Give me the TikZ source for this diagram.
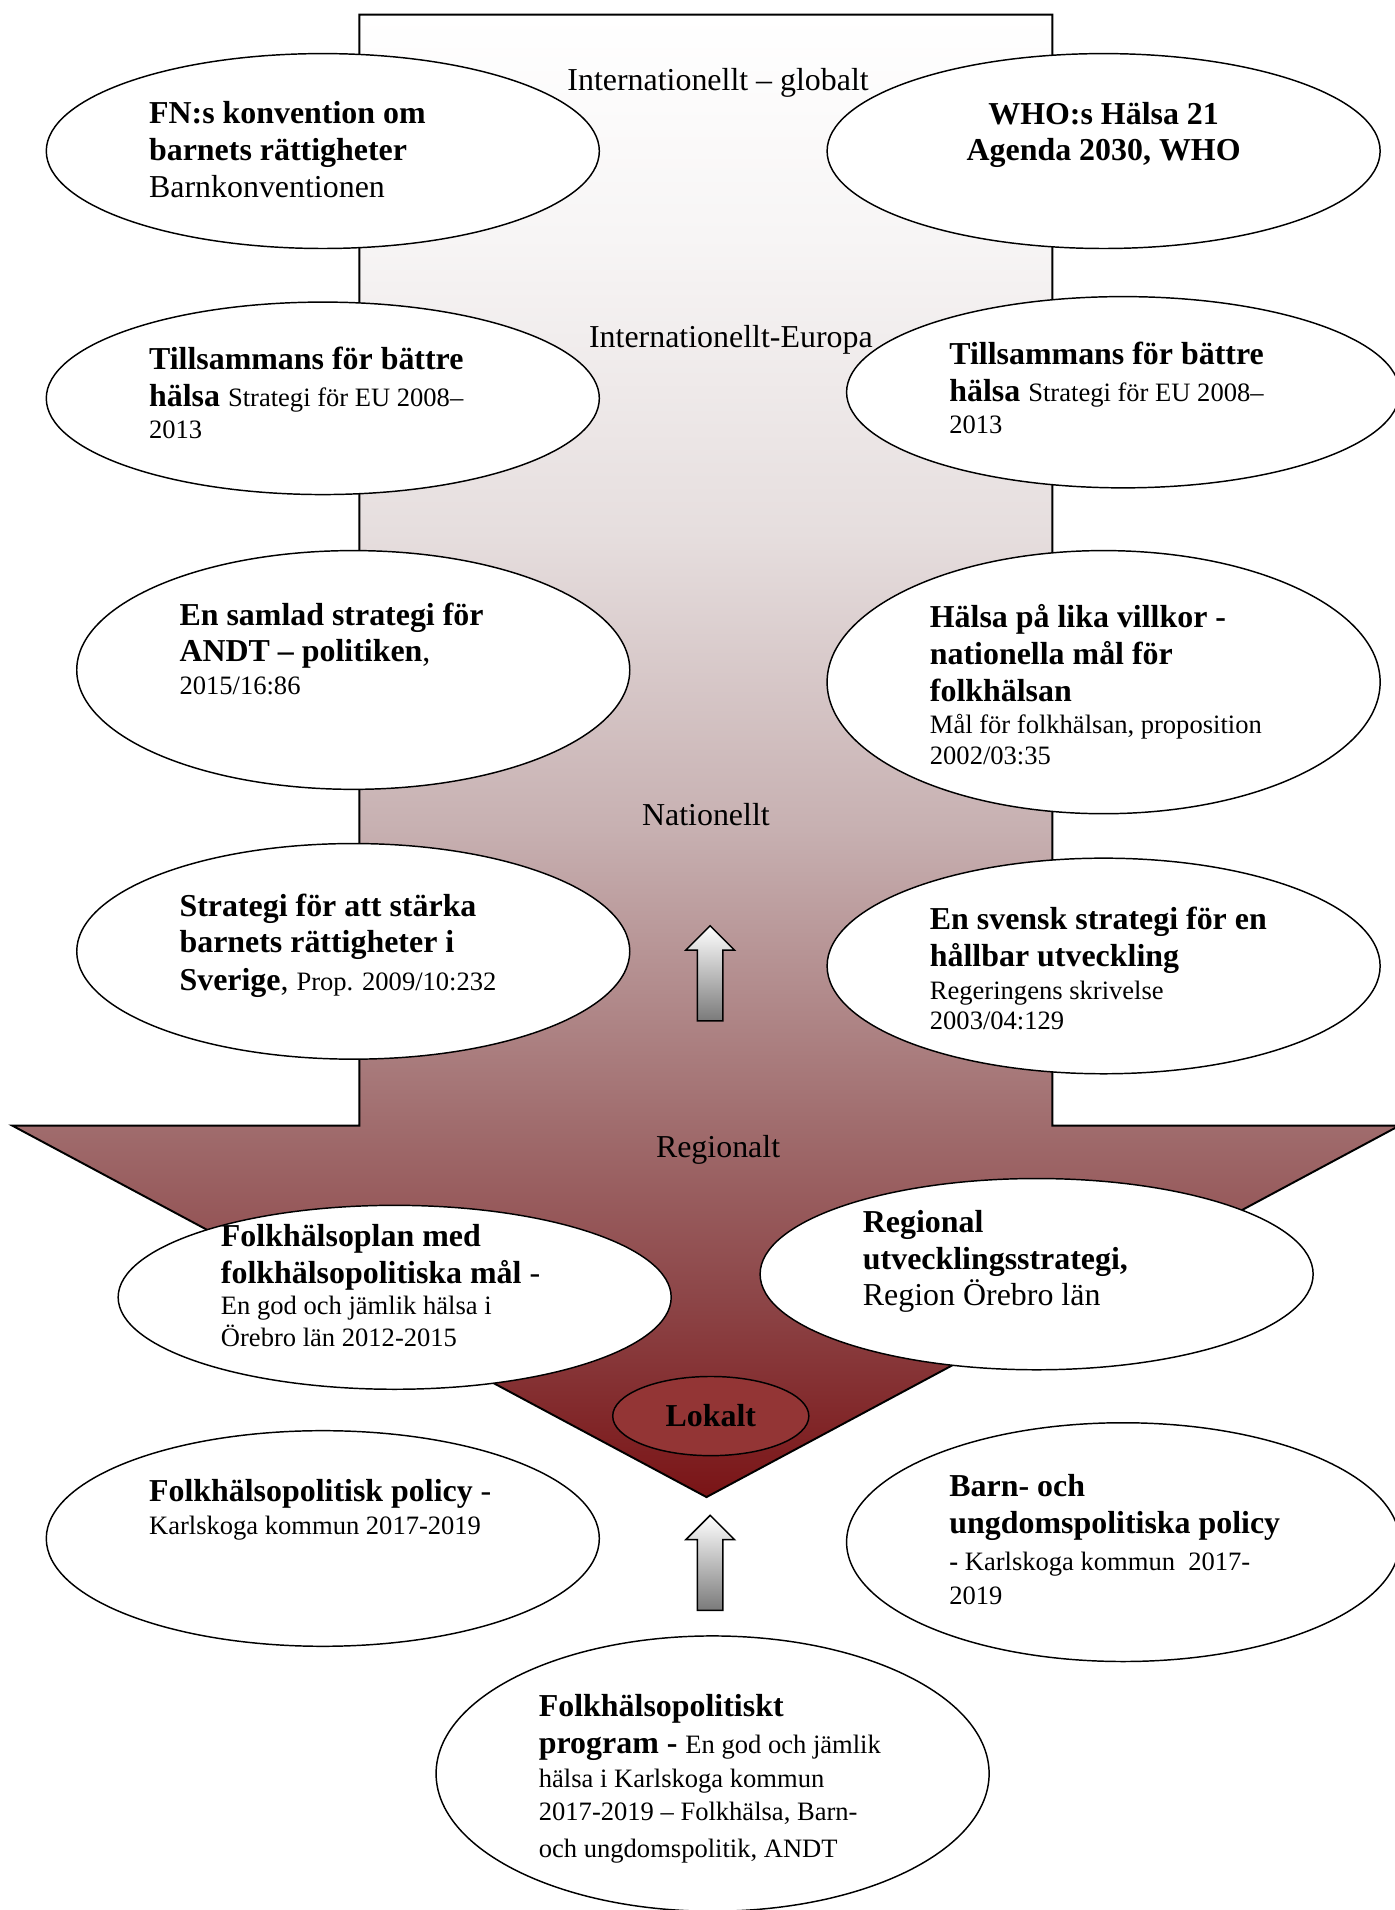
\documentclass[tikz,border=0pt]{standalone}
\usepackage{fontspec}
\setmainfont{Liberation Serif}
\usetikzlibrary{shapes.geometric}
\definecolor{tipred}{RGB}{122,20,22}
\definecolor{shadeF}{RGB}{140,68,70}
\definecolor{shadeE}{RGB}{160,108,109}
\definecolor{shadeD}{RGB}{199,176,177}
\definecolor{shadeC}{RGB}{230,222,222}
\definecolor{shadeB}{RGB}{247,245,245}
\definecolor{lokred}{RGB}{147,53,53}
\pgfdeclareverticalshading{levelshade}{100bp}{color(0bp)=(tipred); color(25bp)=(tipred); color(31.5bp)=(shadeF); color(37.5bp)=(shadeE); color(47.5bp)=(shadeD); color(57.5bp)=(shadeC); color(67.5bp)=(shadeB); color(75bp)=(white); color(100bp)=(white)}
\newcommand{\mainsize}{\fontsize{13.1}{15.1}\selectfont}
\newcommand{\notesize}{\fontsize{10.9}{13}\selectfont}
\tikzset{
  bubble/.style={draw=black,line width=0.6pt,fill=white,ellipse,inner sep=0pt,minimum width=227pt},
  txt/.style={anchor=base west,align=left,inner sep=0pt,font=\mainsize},
  level/.style={anchor=base,inner sep=0pt,font=\mainsize},
  uparrow/.style={line width=0.6pt,top color=white,bottom color=black!52}
}
\begin{document}
\begin{tikzpicture}[x=0.5pt,y=-0.5pt]
\useasboundingbox (0,0) rectangle (1145,1568);
\fill[white] (0,0) rectangle (1145,1568);
\shadedraw[line width=0.8pt,shading=levelshade](295,12)--(864,12)--(864,924)--(1149,924)--(580,1229)--(10,924)--(295,924)--cycle;
\foreach \ty in {760,1244}
  \shadedraw[uparrow](583,\ty)--++(20,20)--++(-9.5,0)--++(0,58)--++(-21,0)--++(0,-58)--++(-9.5,0)--cycle;
\node[bubble,minimum height=80pt] (fn) at (265,124) {};
\node[bubble,minimum height=80pt] (who) at (906,124) {};
\node[bubble,minimum height=79pt] (eul) at (265,327) {};
\node[bubble,minimum height=78.5pt] (eur) at (922,322) {};
\node[bubble,minimum height=98pt] (andt) at (290,550) {};
\node[bubble,minimum height=108pt] (lika) at (906,560) {};
\node[bubble,minimum height=88.5pt] (barn) at (290,781) {};
\node[bubble,minimum height=88.5pt] (hallbar) at (906,793) {};
\node[bubble,minimum height=75.5pt] (plan) at (324,1065) {};
\node[bubble,minimum height=78.5pt] (region) at (851,1046) {};
\node[bubble,minimum height=88.5pt] (policy) at (265,1263) {};
\node[bubble,minimum height=98pt] (ungdom) at (922,1266) {};
\node[bubble,minimum height=113pt] (program) at (585,1456) {};
\node[bubble,fill=lokred,minimum width=80.5pt,minimum height=32.5pt,font=\mainsize\bfseries] (lokalt) at (583.5,1162.5) {Lokalt};
\node[txt] (fntxt) at (122,162) {\textbf{FN:s konvention om}\\\textbf{barnets rättigheter}\\Barnkonventionen};
\node[txt,anchor=base,align=center] (whotxt) at (906,132) {\textbf{WHO:s Hälsa 21}\\\textbf{Agenda 2030, WHO}};
\node[txt] (eultxt) at (122,360) {\textbf{Tillsammans för bättre}\\\textbf{hälsa} {\notesize Strategi för EU 2008–}\\[-1.75pt]{\notesize 2013}};
\node[txt] (eurtxt) at (779,356) {\textbf{Tillsammans för bättre}\\\textbf{hälsa} {\notesize Strategi för EU 2008–}\\[-1.75pt]{\notesize 2013}};
\node[txt] (andttxt) at (147,570) {\textbf{En samlad strategi för}\\\textbf{ANDT – politiken},\\[-1.75pt]{\notesize 2015/16:86}};
\node[txt] (likatxt) at (763,628) {\textbf{Hälsa på lika villkor -}\\\textbf{nationella mål för}\\\textbf{folkhälsan}\\[-1.75pt]{\notesize Mål för folkhälsan, proposition}\\[-2.25pt]{\notesize 2002/03:35}};
\node[txt] (barntxt) at (147,813) {\textbf{Strategi för att stärka}\\\textbf{barnets rättigheter i}\\[0.25pt]\textbf{Sverige}, {\notesize Prop. 2009/10:232}};
\node[txt] (hallbartxt) at (763,845) {\textbf{En svensk strategi för en}\\\textbf{hållbar utveckling}\\[-1.75pt]{\notesize Regeringens skrivelse}\\[-2.75pt]{\notesize 2003/04:129}};
\node[txt] (plantxt) at (181,1105) {\textbf{Folkhälsoplan med}\\\textbf{folkhälsopolitiska mål} -\\[-2.25pt]{\notesize En god och jämlik hälsa i}\\[-2.25pt]{\notesize Örebro län 2012-2015}};
\node[txt] (regiontxt) at (708,1072) {\textbf{Regional}\\\textbf{utvecklingsstrategi,}\\Region Örebro län};
\node[txt] (policytxt) at (122,1260) {\textbf{Folkhälsopolitisk policy} -\\[-1.25pt]{\notesize Karlskoga kommun 2017-2019}};
\node[txt] (ungdomtxt) at (779,1317) {\textbf{Barn- och}\\\textbf{ungdomspolitiska policy}\\{\notesize\textbf{-} Karlskoga kommun\ \ 2017-}\\[-1.25pt]{\notesize 2019}};
\node[txt] (programtxt) at (442,1525) {\textbf{Folkhälsopolitiskt}\\\textbf{program -} {\notesize En god och jämlik}\\[-1.25pt]{\notesize hälsa i Karlskoga kommun}\\[-1.25pt]{\notesize 2017-2019 – Folkhälsa, Barn-}\\{\notesize och ungdomspolitik, ANDT}};
\node[level] (lvlglobal) at (589.5,74) {Internationellt – globalt};
\node[level] (lvleuropa) at (600,285) {Internationellt-Europa};
\node[level] (lvlnation) at (579.5,678) {Nationellt};
\node[level] (lvlregion) at (589.5,950) {Regionalt};
\end{tikzpicture}
\end{document}
